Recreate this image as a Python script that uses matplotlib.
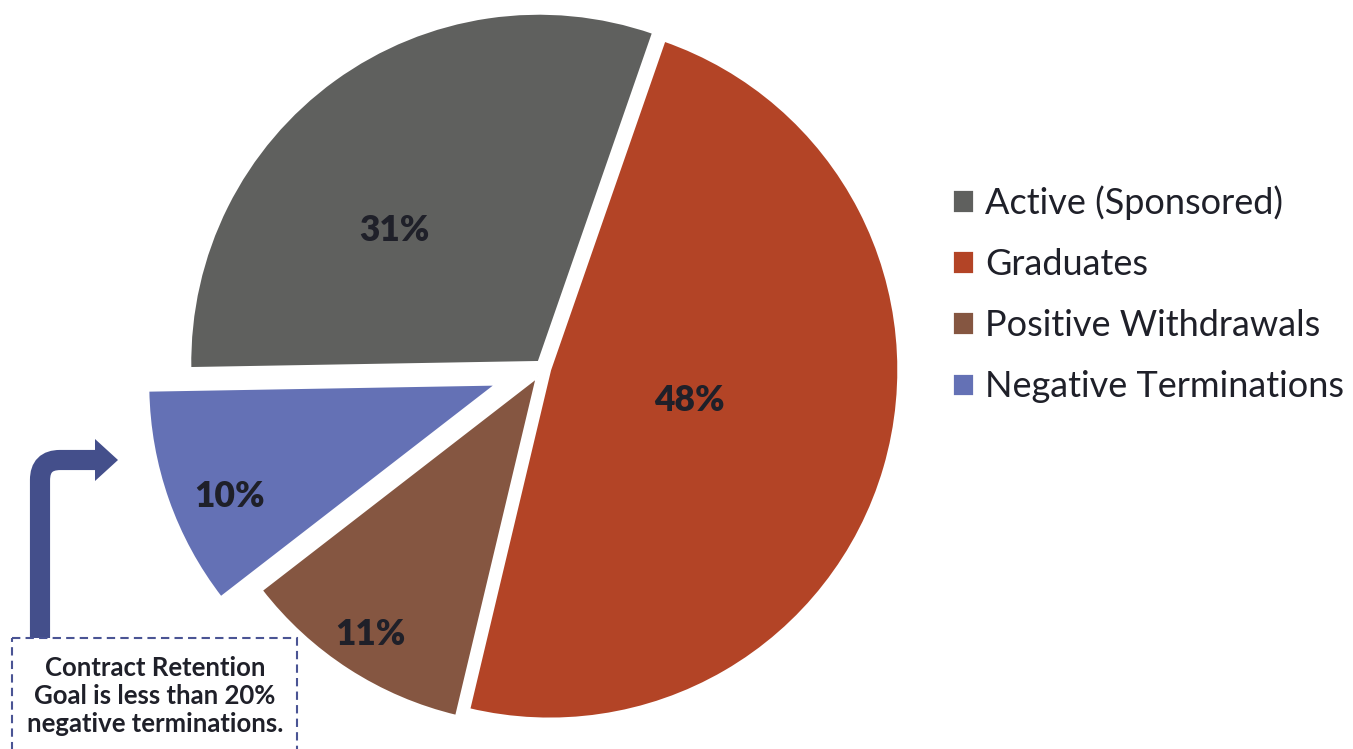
import matplotlib.pyplot as plt
from matplotlib.patches import Rectangle, Polygon, PathPatch
from matplotlib.path import Path
import numpy as np

plt.rcParams['font.family'] = ['Lato', 'DejaVu Sans']

categories = ['Active (Sponsored)', 'Graduates', 'Positive Withdrawals', 'Negative Terminations']
shares = [30.6, 48.4, 10.8, 10.2]
colors = ['#5f605e', '#b34426', '#855641', '#6471b5']
explode = [0.02, 0.02, 0.03, 0.14]
note = 'Contract Retention\nGoal is less than 20%\nnegative terminations.'

W, H = 1353, 749
fig = plt.figure(figsize=(W / 100, H / 100), dpi=100)

# pie axes: center (543, 368) px, radius ~349 px
cx, cy, R = 543, 368, 349
lim = 1.25
side = 2 * lim * R
ax = fig.add_axes([(cx - lim * R) / W, (H - cy - lim * R) / H, side / W, side / H])

wedges, texts, autotexts = ax.pie(
    shares, colors=colors, explode=explode, startangle=181, counterclock=False,
    autopct='%.0f%%', radius=1,
    wedgeprops=dict(edgecolor='white', linewidth=2),
    textprops=dict(fontsize=25.5, fontweight='heavy', color='#1f2029'))
ax.set_xlim(-lim, lim)
ax.set_ylim(-lim, lim)
ax.set_aspect('equal')
ax.axis('off')

# label placement per wedge (radius, angle shift)
label_r = [0.56, 0.41, 0.88, 0.83]
label_dt = [11.8, 4.0, 0.0, 3.4]
for w, t, r, dt in zip(wedges, autotexts, label_r, label_dt):
    th = np.deg2rad((w.theta1 + w.theta2) / 2 + dt)
    x0, y0 = w.center
    t.set_position((x0 + r * np.cos(th), y0 + r * np.sin(th)))
    t.set_ha('center')
    t.set_va('center')

fig.legend(wedges, categories, loc='center left',
           bbox_to_anchor=(952 / W, 1 - 294 / H), frameon=False,
           fontsize=26, handlelength=0.62, handleheight=0.62,
           handletextpad=0.3, labelspacing=0.78, borderpad=0,
           borderaxespad=0, labelcolor='#1f2029')

# overlay in pixel coordinates for the note and arrow
ov = fig.add_axes([0, 0, 1, 1], zorder=5)
ov.set_xlim(0, W)
ov.set_ylim(H, 0)
ov.axis('off')

arrow_col = '#444f8b'
verts = [(40, 638), (40, 480), (40, 460), (60, 460), (97, 460)]
codes = [Path.MOVETO, Path.LINETO, Path.CURVE3, Path.CURVE3, Path.LINETO]
ov.add_patch(PathPatch(Path(verts, codes), facecolor='none', edgecolor=arrow_col,
                       linewidth=14.5, capstyle='butt', joinstyle='miter'))
ov.add_patch(Polygon([(95, 439), (118, 460), (95, 481)], closed=True,
                     facecolor=arrow_col, edgecolor='none'))

ov.add_patch(Rectangle((12, 638), 285, 130, facecolor='white', edgecolor='#4a5494',
                       linewidth=1.5, linestyle=(0, (4, 2.5)), zorder=6))
ov.text(155, 696, note, ha='center', va='center', fontsize=18.5,
        fontweight='bold', color='#1f2029', linespacing=1.22, zorder=7)

fig.savefig('out.png', dpi=100)
